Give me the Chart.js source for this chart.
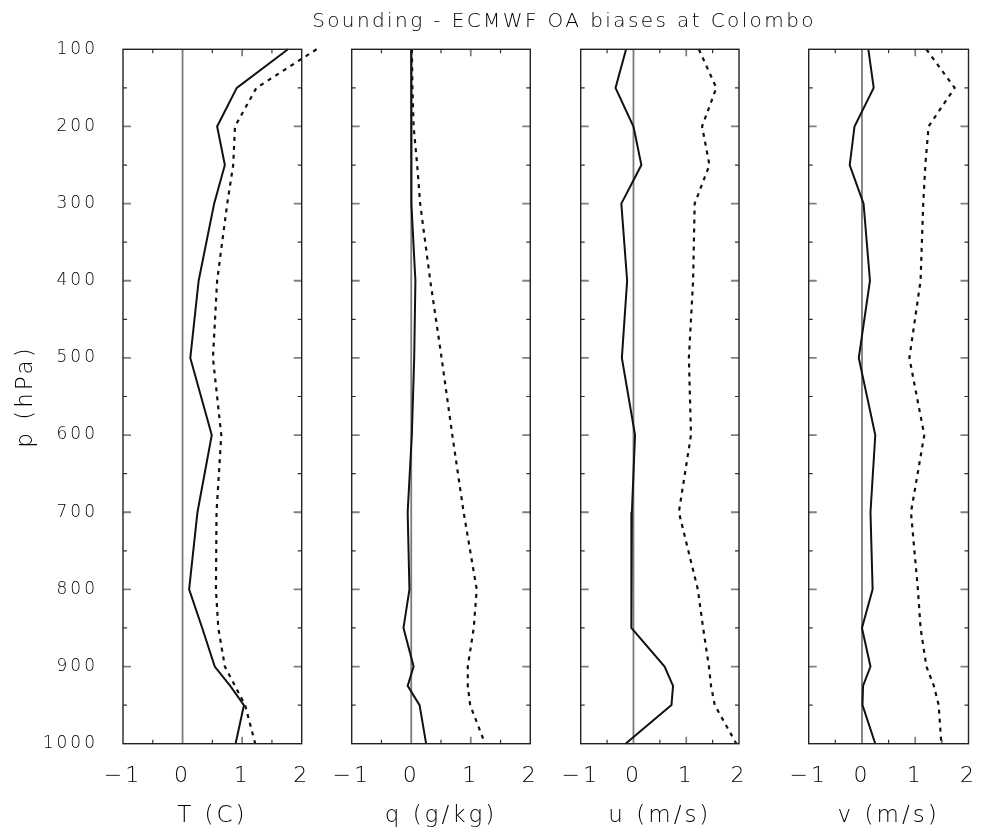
<!DOCTYPE html>
<html>
<head>
<meta charset="utf-8">
<script src="https://cdn.jsdelivr.net/npm/chart.js@4.4.1/dist/chart.umd.min.js"></script>
<style>
body { margin: 0; background: #fff; }
#wrap { position: relative; width: 996px; height: 832px; }
#wrap canvas { position: absolute; left: 0; top: 0; }
</style>
</head>
<body>
<div id="wrap">
  <canvas id="c1" width="996" height="832"></canvas>
  <canvas id="c2" width="996" height="832"></canvas>
  <canvas id="c3" width="996" height="832"></canvas>
  <canvas id="c4" width="996" height="832"></canvas>
</div>
<script>
// pressure levels (hPa)
const levels = [100, 150, 200, 250, 300, 400, 500, 600, 700, 800, 850, 900, 925, 950, 1000];

// solid = mean bias, dashed = rms
const tBias = [1.77, 0.91, 0.58, 0.71, 0.53, 0.27, 0.13, 0.49, 0.25, 0.11, 0.33, 0.54, 0.80, 1.03, 0.89];
const tRms  = [2.25, 1.24, 0.88, 0.85, 0.75, 0.58, 0.51, 0.65, 0.57, 0.56, 0.60, 0.71, 0.88, 1.05, 1.22];

const qBias = [0.00, 0.00, 0.00, 0.00, 0.01, 0.07, 0.05, 0.01, -0.06, -0.03, -0.13, 0.04, -0.06, 0.14, 0.25];
const qRms  = [0.01, 0.02, 0.04, 0.10, 0.15, 0.32, 0.51, 0.69, 0.88, 1.10, 1.05, 0.95, 0.95, 0.99, 1.24];

const uBias = [-0.14, -0.34, 0.00, 0.15, -0.23, -0.12, -0.22, 0.03, -0.03, -0.04, -0.04, 0.59, 0.75, 0.72, -0.15];
const uRms  = [1.24, 1.57, 1.30, 1.44, 1.16, 1.13, 1.05, 1.09, 0.86, 1.22, 1.32, 1.43, 1.47, 1.54, 1.95];

const vBias = [0.12, 0.22, -0.14, -0.23, 0.03, 0.15, -0.06, 0.25, 0.16, 0.20, 0.00, 0.16, 0.02, 0.01, 0.25];
const vRms  = [1.21, 1.74, 1.25, 1.19, 1.15, 1.10, 0.89, 1.17, 0.92, 1.05, 1.10, 1.21, 1.35, 1.44, 1.49];

const xTicks = [-1, 0, 1, 2];
const panelTitles = ['T (C)', 'q (g/kg)', 'u (m/s)', 'v (m/s)'];
const chartTitle = 'Sounding - ECMWF OA biases at Colombo';

// panel boxes in page pixels
const panels = [
  { id: 'c1', left: 123,   right: 301.7, bias: tBias, rms: tRms },
  { id: 'c2', left: 351.7, right: 530.3, bias: qBias, rms: qRms },
  { id: 'c3', left: 580.7, right: 739,   bias: uBias, rms: uRms },
  { id: 'c4', left: 808.7, right: 987.3, bias: vBias, rms: vRms }
];
const W = 996, H = 832, TOP = 49.3, BOTTOM = 743.7, XAXIS_H = 86, YAXIS_W = 115;

const font = 'DejaVu Sans';
const textColor = '#000';

function toPoints(vals) {
  return levels.map((p, i) => ({ x: vals[i], y: p }));
}

// wide letter spacing like the original plot fonts
const spacingPlugin = {
  id: 'spacing',
  beforeLayout(chart) { chart.ctx.letterSpacing = '3px'; },
  beforeDraw(chart) { chart.ctx.letterSpacing = '3px'; }
};

const framePlugin = {
  id: 'frame',
  beforeDatasetsDraw(chart) {
    const ctx = chart.ctx, a = chart.chartArea;
    const x0 = chart.scales.x.getPixelForValue(0);
    ctx.save();
    ctx.strokeStyle = '#7a7a7a';
    ctx.lineWidth = 1.8;
    ctx.beginPath();
    ctx.moveTo(x0, a.top);
    ctx.lineTo(x0, a.bottom);
    ctx.stroke();
    ctx.restore();
  },
  afterDatasetsDraw(chart) {
    const ctx = chart.ctx, a = chart.chartArea;
    const xs = chart.scales.x, ys = chart.scales.y;
    ctx.save();
    // pressure ticks every 50 hPa, inward on both sides
    for (let p = 150; p < 1000; p += 50) {
      const y = ys.getPixelForValue(p);
      const major = p % 100 === 0;
      const len = major ? 8 : 4;
      ctx.strokeStyle = major ? '#808080' : '#333';
      ctx.lineWidth = major ? 1.8 : 1.2;
      ctx.beginPath();
      ctx.moveTo(a.left, y); ctx.lineTo(a.left + len, y);
      ctx.moveTo(a.right, y); ctx.lineTo(a.right - len, y);
      ctx.stroke();
    }
    // x ticks every 0.5, inward top and bottom
    for (let v = -0.5; v < 2; v += 0.5) {
      if (v === 0) continue;
      const x = xs.getPixelForValue(v);
      const major = Number.isInteger(v);
      const len = major ? 7 : 4;
      ctx.strokeStyle = major ? '#808080' : '#333';
      ctx.lineWidth = major ? 1.8 : 1.2;
      ctx.beginPath();
      ctx.moveTo(x, a.top); ctx.lineTo(x, a.top + len);
      ctx.moveTo(x, a.bottom); ctx.lineTo(x, a.bottom - len);
      ctx.stroke();
    }
    // frame
    ctx.strokeStyle = '#222';
    ctx.lineWidth = 1.4;
    ctx.strokeRect(a.left, a.top, a.right - a.left, a.bottom - a.top);
    ctx.restore();
  }
};

const titlePlugin = {
  id: 'mainTitle',
  afterDraw(chart) {
    const ctx = chart.ctx;
    ctx.save();
    ctx.font = '200 20px "' + font + '"';
    ctx.letterSpacing = '2.4px';
    ctx.fillStyle = textColor;
    ctx.textAlign = 'center';
    ctx.textBaseline = 'middle';
    ctx.fillText(chartTitle, 564, 22);
    ctx.restore();
  }
};

panels.forEach((pn, i) => {
  const first = i === 0;
  const plugins = [spacingPlugin, framePlugin];
  if (first) plugins.push(titlePlugin);
  new Chart(document.getElementById(pn.id), {
    type: 'scatter',
    data: {
      datasets: [{
        data: toPoints(pn.bias),
        showLine: true,
        borderColor: '#111',
        borderWidth: 2,
        pointRadius: 0,
        clip: false
      }, {
        data: toPoints(pn.rms),
        showLine: true,
        borderColor: '#111',
        borderWidth: 2.2,
        borderDash: [4, 5],
        pointRadius: 0,
        clip: false
      }]
    },
    options: {
      responsive: false,
      animation: false,
      events: [],
      layout: {
        padding: {
          left: first ? pn.left - YAXIS_W : pn.left,
          right: W - pn.right,
          top: TOP,
          bottom: H - BOTTOM - XAXIS_H
        }
      },
      plugins: {
        legend: { display: false },
        tooltip: { enabled: false }
      },
      scales: {
        x: {
          type: 'linear',
          min: -1,
          max: 2,
          afterBuildTicks(scale) {
            scale.ticks = xTicks.map(v => ({ value: v }));
          },
          afterFit(scale) { scale.height = XAXIS_H; },
          grid: { display: false, drawTicks: false },
          border: { display: false },
          ticks: {
            padding: 19,
            color: textColor,
            font: { family: font, size: 22, weight: 200 },
            maxRotation: 0,
            callback: v => String(v).replace('-', '\u2212')
          },
          title: {
            display: true,
            text: panelTitles[i],
            color: textColor,
            font: { family: font, size: 23, weight: 200 },
            padding: { top: 0, bottom: 0 }
          }
        },
        y: {
          type: 'linear',
          reverse: true,
          min: 100,
          max: 1000,
          display: first,
          afterBuildTicks(scale) {
            scale.ticks = levels.filter(p => p % 100 === 0).map(v => ({ value: v }));
          },
          afterFit(scale) { if (first) scale.width = YAXIS_W; },
          grid: { display: false, drawTicks: false },
          border: { display: false },
          ticks: {
            padding: 25,
            color: textColor,
            font: { family: font, size: 17, weight: 200 },
            callback: v => String(v)
          },
          title: {
            display: true,
            text: 'p (hPa)',
            color: textColor,
            font: { family: font, size: 23, weight: 200 },
            padding: { top: 4, bottom: 0 }
          }
        }
      }
    },
    plugins: plugins
  });
});
</script>
</body>
</html>
